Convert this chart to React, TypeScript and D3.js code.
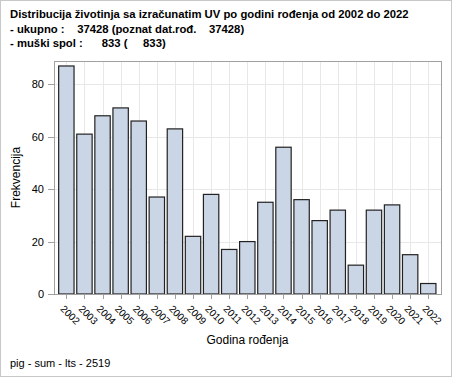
import React from "react";
import * as d3 from "d3";

const years = ["2002","2003","2004","2005","2006","2007","2008","2009","2010","2011","2012","2013","2014","2015","2016","2017","2018","2019","2020","2021","2022"];
const counts = [87, 61, 68, 71, 66, 37, 63, 22, 38, 17, 20, 35, 56, 36, 28, 32, 11, 32, 34, 15, 4];
const yTicks = [0, 20, 40, 60, 80];
const titleLines = [
  "Distribucija životinja sa izračunatim UV po godini rođenja od 2002 do 2022",
  "- ukupno :    37428 (poznat dat.rođ.    37428)",
  "- muški spol :      833 (     833)",
];
const xTitle = "Godina rođenja";
const yTitle = "Frekvencija";
const footer = "pig - sum - lts - 2519";

export default function App() {
  const W = 454, H = 378;
  const left = 54, right = 441, top = 61, bottom = 294;
  const x = d3.scaleBand<string>().domain(years).range([57.3, 437.3]).paddingInner(0.15).paddingOuter(0.075);
  const y = d3.scaleLinear().domain([0, 88.9]).range([bottom, top]);
  const font = "'Liberation Sans', Arial, sans-serif";
  return (
    <svg width={W} height={H} style={{ position: "absolute", left: 0, top: 0, background: "#fff" }} fontFamily={font}>
      <rect x={0.5} y={0.5} width={451} height={376} fill="#fff" stroke="#c8c8c8" />
      {titleLines.map((t, i) => (
        <text key={i} x={10} y={18 + i * 14.5} fontSize={11.3} fontWeight="bold" fill="#000" style={{ whiteSpace: "pre" }}>{t}</text>
      ))}
      {yTicks.filter(v => v > 0).map(v => (
        <line key={"h" + v} x1={left} x2={right} y1={Math.round(y(v)) + 0.5} y2={Math.round(y(v)) + 0.5} stroke="#e8e8e8" />
      ))}
      {years.map(yr => {
        const cx = Math.round(x(yr)! + x.bandwidth() / 2) + 0.5;
        return <line key={"v" + yr} x1={cx} x2={cx} y1={top} y2={bottom} stroke="#e8e8e8" />;
      })}
      {years.map((yr, i) => (
        <rect key={"b" + yr} x={x(yr)!} y={y(counts[i])} width={x.bandwidth()} height={bottom - y(counts[i])} fill="#cad5e5" stroke="#222" strokeWidth={1.2} />
      ))}
      <rect x={left + 0.5} y={top + 0.5} width={right - left} height={bottom - top} fill="none" stroke="#a0a0a0" />
      {yTicks.map(v => (
        <g key={"yt" + v}>
          <line x1={48} x2={left} y1={Math.round(y(v)) + 0.5} y2={Math.round(y(v)) + 0.5} stroke="#a0a0a0" />
          <text x={44} y={y(v) + 4} fontSize={11} textAnchor="end" fill="#000">{v}</text>
        </g>
      ))}
      {years.map(yr => {
        const cx = x(yr)! + x.bandwidth() / 2;
        return (
          <g key={"xt" + yr}>
            <line x1={Math.round(cx) + 0.5} x2={Math.round(cx) + 0.5} y1={bottom + 1} y2={bottom + 5} stroke="#a0a0a0" />
            <text transform={`translate(${cx - 6.5},${309.5}) rotate(45)`} fontSize={10} fill="#000">{yr}</text>
          </g>
        );
      })}
      <text x={(left + right) / 2} y={344} fontSize={12} textAnchor="middle" fill="#000">{xTitle}</text>
      <text transform={`translate(19.5,${(top + bottom) / 2}) rotate(-90)`} fontSize={12} textAnchor="middle" fill="#000">{yTitle}</text>
      <text x={10} y={366.5} fontSize={11} fill="#000">{footer}</text>
    </svg>
  );
}
